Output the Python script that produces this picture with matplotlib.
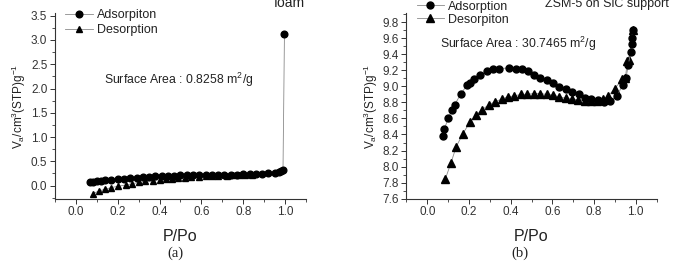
import matplotlib
matplotlib.use('Agg')
import matplotlib.pyplot as plt
from matplotlib.ticker import MultipleLocator

plt.rcParams['font.family'] = ['Liberation Sans', 'DejaVu Sans']
plt.rcParams['mathtext.fontset'] = 'custom'
plt.rcParams['mathtext.rm'] = 'Liberation Sans'
plt.rcParams['mathtext.it'] = 'Liberation Sans:italic'

# (a) foam
foam_ads_x = [0.065, 0.08, 0.10, 0.12, 0.14, 0.17, 0.20, 0.23, 0.26, 0.29, 0.32, 0.35,
              0.38, 0.41, 0.44, 0.47, 0.50, 0.53, 0.56, 0.59, 0.62, 0.65, 0.68, 0.71,
              0.74, 0.77, 0.80, 0.83, 0.86, 0.89, 0.92, 0.95, 0.97, 0.98, 0.99, 0.997]
foam_ads_y = [0.07, 0.08, 0.09, 0.10, 0.11, 0.12, 0.13, 0.145, 0.155, 0.165, 0.175, 0.18,
              0.19, 0.195, 0.20, 0.205, 0.21, 0.21, 0.215, 0.215, 0.215, 0.22, 0.22, 0.22,
              0.22, 0.225, 0.23, 0.235, 0.24, 0.245, 0.25, 0.26, 0.28, 0.30, 0.32, 3.13]
foam_des_x = [0.08, 0.11, 0.14, 0.17, 0.20, 0.24, 0.27, 0.30, 0.33, 0.37, 0.40, 0.43,
              0.46, 0.49, 0.52, 0.55, 0.59, 0.62, 0.65, 0.68, 0.72, 0.75, 0.78, 0.81, 0.84]
foam_des_y = [-0.17, -0.11, -0.075, -0.04, -0.015, 0.013, 0.04, 0.065, 0.085, 0.105, 0.12, 0.135,
              0.145, 0.155, 0.165, 0.175, 0.185, 0.19, 0.195, 0.20, 0.205, 0.21, 0.215, 0.22, 0.225]

# (b) ZSM-5 on SiC support
zsm_ads_x = [0.073, 0.082, 0.10, 0.12, 0.131, 0.162, 0.192, 0.203, 0.222, 0.253, 0.285, 0.314,
             0.344, 0.393, 0.425, 0.453, 0.483, 0.513, 0.543, 0.573, 0.605, 0.634, 0.664, 0.696,
             0.727, 0.757, 0.787, 0.818, 0.848, 0.878, 0.910, 0.938, 0.953, 0.965, 0.976, 0.98,
             0.982, 0.985]
zsm_ads_y = [8.38, 8.47, 8.60, 8.71, 8.77, 8.91, 9.02, 9.04, 9.09, 9.14, 9.19, 9.21,
             9.22, 9.23, 9.22, 9.21, 9.19, 9.14, 9.10, 9.08, 9.04, 8.99, 8.97, 8.93,
             8.90, 8.86, 8.84, 8.83, 8.81, 8.82, 8.88, 9.02, 9.10, 9.27, 9.43, 9.53,
             9.60, 9.70]
zsm_des_x = [0.087, 0.114, 0.139, 0.171, 0.203, 0.234, 0.263, 0.295, 0.325, 0.357, 0.387, 0.418,
             0.448, 0.480, 0.510, 0.540, 0.572, 0.603, 0.633, 0.665, 0.695, 0.725, 0.755, 0.785,
             0.815, 0.845, 0.868, 0.900, 0.935, 0.951, 0.960, 0.970, 0.985]
zsm_des_y = [7.85, 8.05, 8.25, 8.41, 8.55, 8.64, 8.71, 8.77, 8.81, 8.84, 8.87, 8.88,
             8.90, 8.90, 8.91, 8.91, 8.90, 8.89, 8.87, 8.85, 8.84, 8.83, 8.82, 8.82,
             8.82, 8.84, 8.88, 8.97, 9.09, 9.11, 9.31, 9.33, 9.70]

text_col = '#222222'
line_col = '#8a8a8a'
ylab = r'V$_\mathrm{a}$/cm$^\mathrm{3}$(STP)g$^\mathrm{-1}$'

fig = plt.figure(figsize=(6.73, 2.66), dpi=100)
ax1 = fig.add_axes([0.0817, 0.253, 0.373, 0.697])
ax2 = fig.add_axes([0.604, 0.253, 0.3715, 0.697])


def style_axis(ax):
    for s in ['top', 'right']:
        ax.spines[s].set_visible(False)
    for s in ['left', 'bottom']:
        ax.spines[s].set_color('#333333')
        ax.spines[s].set_linewidth(0.8)
    ax.tick_params(which='major', direction='out', length=3.5, width=0.7,
                   labelsize=8.5, colors='#333333', pad=2)
    ax.tick_params(which='minor', direction='out', length=2, width=0.6, colors='#333333')
    ax.set_xlim(-0.1, 1.1)
    ax.xaxis.set_major_locator(MultipleLocator(0.2))
    ax.xaxis.set_minor_locator(MultipleLocator(0.1))
    ax.set_xlabel('P/Po', fontsize=11.5, color=text_col, labelpad=8)
    ax.set_ylabel(ylab, fontsize=8.5, color=text_col, labelpad=2)


# panel (a)
ax1.plot(foam_des_x, foam_des_y, '-', color=line_col, lw=0.6, marker='^', ms=5,
         mfc='black', mec='black', label='Desorption', zorder=2)
ax1.plot(foam_ads_x, foam_ads_y, '-', color=line_col, lw=0.6, marker='o', ms=4.8,
         mfc='black', mec='black', label='Adsorpiton', zorder=3)
style_axis(ax1)
ax1.set_ylim(-0.27, 3.55)
ax1.yaxis.set_major_locator(MultipleLocator(0.5))
ax1.yaxis.set_minor_locator(MultipleLocator(0.25))
ax1.text(0.49, 2.18, 'Surface Area : 0.8258 m$^\\mathrm{2}$/g', fontsize=8.8,
         color=text_col, ha='center', va='center')
h, l = ax1.get_legend_handles_labels()
ax1.legend(h[::-1], l[::-1], loc='upper left', bbox_to_anchor=(0.097, 0.965),
           bbox_transform=fig.transFigure, frameon=False, fontsize=9,
           handlelength=2.2, handletextpad=0.3, labelspacing=0.25, borderpad=0,
           borderaxespad=0, labelcolor=text_col)
fig.text(0.43, 0.975, 'foam', fontsize=10, color=text_col, ha='center', va='baseline')
fig.text(0.26, 0.048, '(a)', fontsize=10.5, family='Liberation Serif', color=text_col,
         ha='center', va='center')

# panel (b)
ax2.plot(zsm_des_x, zsm_des_y, '-', color=line_col, lw=0.6, marker='^', ms=5.5,
         mfc='black', mec='black', label='Desorpiton', zorder=2)
ax2.plot(zsm_ads_x, zsm_ads_y, '-', color=line_col, lw=0.6, marker='o', ms=5,
         mfc='black', mec='black', label='Adsorption', zorder=3)
style_axis(ax2)
ax2.set_ylim(7.6, 9.91)
ax2.yaxis.set_major_locator(MultipleLocator(0.2))
ax2.yaxis.set_minor_locator(MultipleLocator(0.1))
ax2.text(0.063, 9.53, 'Surface Area : 30.7465 m$^\\mathrm{2}$/g', fontsize=8.8,
         color=text_col, ha='left', va='center')
h, l = ax2.get_legend_handles_labels()
ax2.legend(h[::-1], l[::-1], loc='upper left', bbox_to_anchor=(0.619, 0.998),
           bbox_transform=fig.transFigure, frameon=False, fontsize=9,
           handlelength=2.2, handletextpad=0.3, labelspacing=0.1, borderpad=0,
           borderaxespad=0, labelcolor=text_col)
fig.text(0.902, 0.975, 'ZSM-5 on SiC support', fontsize=9, color=text_col,
         ha='center', va='baseline')
fig.text(0.773, 0.048, '(b)', fontsize=10.5, family='Liberation Serif', color=text_col,
         ha='center', va='center')

fig.savefig('out.png', dpi=100)
